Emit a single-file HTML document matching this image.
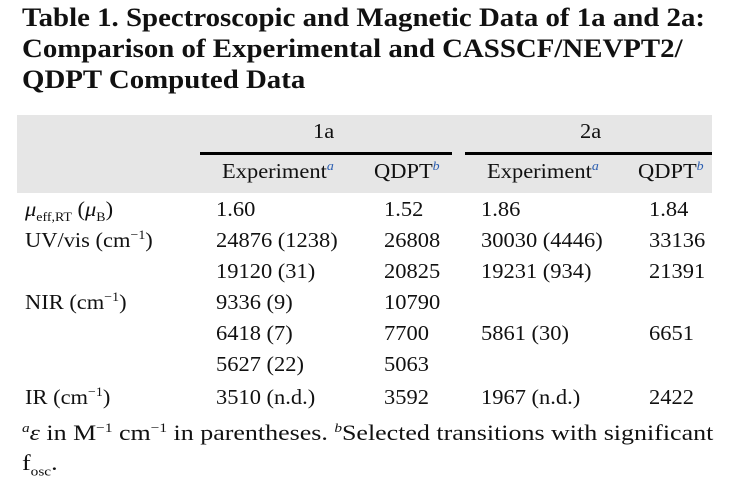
<!DOCTYPE html>
<html><head><style>
body{margin:0;width:734px;height:479px;background:#fff;position:relative;overflow:hidden;font-family:"Liberation Serif",serif;color:#111}
.t{position:absolute;left:22px;font-weight:bold;font-size:26px;line-height:31px;top:2px;transform:scaleX(1.11);transform-origin:0 0;white-space:nowrap}
.a{position:absolute;font-size:21px;white-space:nowrap;line-height:22px;transform:scaleX(1.07);transform-origin:0 0}
.f{font-size:22px;transform:scaleX(1.18)}
sup{font-size:13px;color:#2a5db0;font-style:italic;vertical-align:8px;line-height:0}
sub{font-size:13px;line-height:0}
.g{position:absolute;left:17px;top:115px;width:695px;height:78px;background:#e6e6e6}
.l{position:absolute;top:152px;height:3px;background:#000}
i{font-style:italic}
.k{color:#111;font-style:normal}
</style></head><body>
<div class="t">Table 1. Spectroscopic and Magnetic Data of 1a and 2a:<br>Comparison of Experimental and CASSCF/NEVPT2/<br>QDPT Computed Data</div>
<div class="g"></div>
<div class="l" style="left:200px;width:252px"></div>
<div class="l" style="left:465px;width:247px"></div>
<div class="a" style="left:313px;top:120px">1a</div>
<div class="a" style="left:580px;top:120px">2a</div>
<div class="a" style="left:222px;top:160px">Experiment<sup>a</sup></div>
<div class="a" style="left:374px;top:160px">QDPT<sup>b</sup></div>
<div class="a" style="left:487px;top:160px">Experiment<sup>a</sup></div>
<div class="a" style="left:638px;top:160px">QDPT<sup>b</sup></div>

<div class="a" style="left:25px;top:198px"><i>μ</i><sub>eff,RT</sub> (<i>μ</i><sub>B</sub>)</div>
<div class="a" style="left:216px;top:198px">1.60</div>
<div class="a" style="left:384px;top:198px">1.52</div>
<div class="a" style="left:481px;top:198px">1.86</div>
<div class="a" style="left:649px;top:198px">1.84</div>

<div class="a" style="left:25px;top:229px">UV/vis (cm<sup class="k">−1</sup>)</div>
<div class="a" style="left:216px;top:229px">24876 (1238)</div>
<div class="a" style="left:384px;top:229px">26808</div>
<div class="a" style="left:481px;top:229px">30030 (4446)</div>
<div class="a" style="left:649px;top:229px">33136</div>

<div class="a" style="left:216px;top:260px">19120 (31)</div>
<div class="a" style="left:384px;top:260px">20825</div>
<div class="a" style="left:481px;top:260px">19231 (934)</div>
<div class="a" style="left:649px;top:260px">21391</div>

<div class="a" style="left:25px;top:291px">NIR (cm<sup class="k">−1</sup>)</div>
<div class="a" style="left:216px;top:291px">9336 (9)</div>
<div class="a" style="left:384px;top:291px">10790</div>

<div class="a" style="left:216px;top:322px">6418 (7)</div>
<div class="a" style="left:384px;top:322px">7700</div>
<div class="a" style="left:481px;top:322px">5861 (30)</div>
<div class="a" style="left:649px;top:322px">6651</div>

<div class="a" style="left:216px;top:353px">5627 (22)</div>
<div class="a" style="left:384px;top:353px">5063</div>

<div class="a" style="left:25px;top:386px">IR (cm<sup class="k">−1</sup>)</div>
<div class="a" style="left:216px;top:386px">3510 (n.d.)</div>
<div class="a" style="left:384px;top:386px">3592</div>
<div class="a" style="left:481px;top:386px">1967 (n.d.)</div>
<div class="a" style="left:649px;top:386px">2422</div>

<div class="a f" style="left:22px;top:422px"><sup style="color:#111">a</sup><i>ε</i> in M<sup class="k">−1</sup> cm<sup class="k">−1</sup> in parentheses. <sup style="color:#111">b</sup>Selected transitions with significant</div>
<div class="a f" style="left:22px;top:452px">f<sub>osc</sub>.</div>
</body></html>
